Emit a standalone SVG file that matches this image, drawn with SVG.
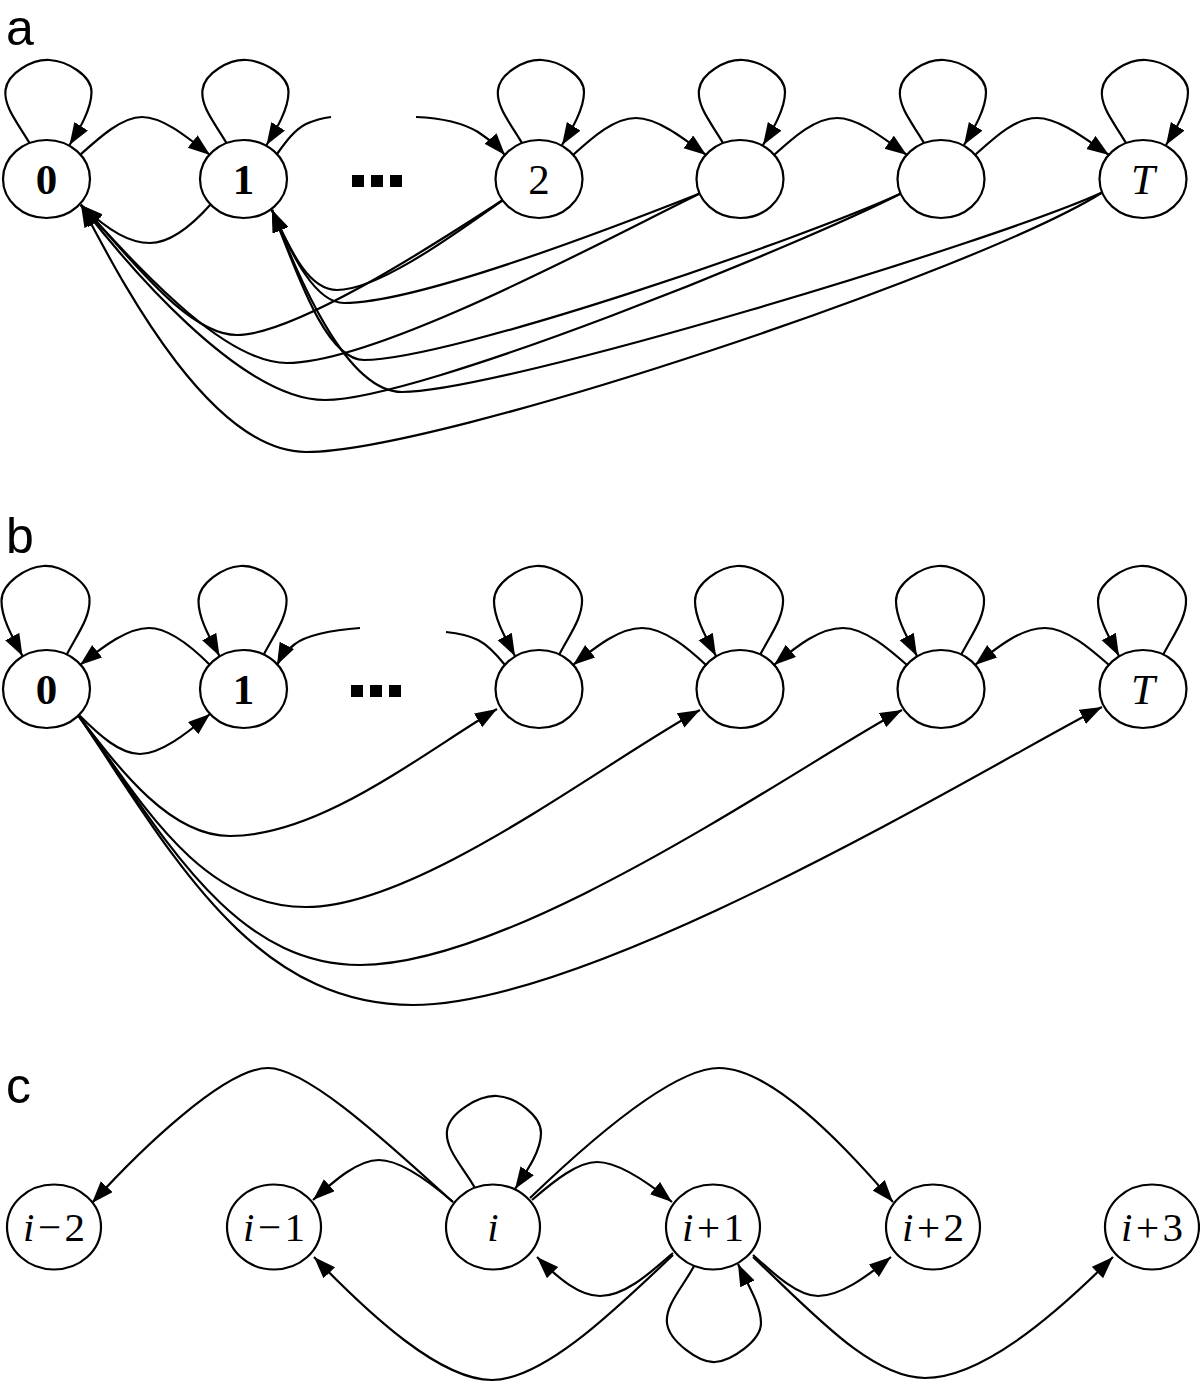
<svg xmlns="http://www.w3.org/2000/svg" width="1200" height="1387" viewBox="0 0 1200 1387">
<style>
.n{fill:#fff;stroke:#000;stroke-width:2.2}
.e{fill:none;stroke:#000;stroke-width:2.2}
.a{marker-end:url(#ah)}
.lab{font-family:"Liberation Sans",Arial,sans-serif;font-size:50px;fill:#000}
.t{font-family:"Liberation Serif","Times New Roman",serif;font-size:43px;fill:#000;text-anchor:middle}
.tc{font-size:41px}
.b{font-weight:bold}
.it{font-style:italic}
.dot{fill:#000}
</style>
<defs>
<marker id="ah" markerUnits="userSpaceOnUse" markerWidth="23" markerHeight="17" refX="22" refY="8" orient="auto">
<path d="M0,0 L22,8 L0,16 z" fill="#000"/>
</marker>
</defs>

<text class="lab" x="6" y="45">a</text>
<text class="lab" x="6" y="553">b</text>
<text class="lab" x="6" y="1103">c</text>

<!-- connectors -->
<g id="connectors">
<!-- panel a self loops -->
<g class="e a">
<path d="M-17,-36 C-28,-55 -43,-72 -41,-89 C-39,-106 -14,-120 3,-119 C20,-118 45,-104 45,-87 C45,-70 33,-50 23,-34" transform="translate(46.5,179)"/>
<path d="M-17,-36 C-28,-55 -43,-72 -41,-89 C-39,-106 -14,-120 3,-119 C20,-118 45,-104 45,-87 C45,-70 33,-50 23,-34" transform="translate(243.5,179)"/>
<path d="M-17,-36 C-28,-55 -43,-72 -41,-89 C-39,-106 -14,-120 3,-119 C20,-118 45,-104 45,-87 C45,-70 33,-50 23,-34" transform="translate(539,179)"/>
<path d="M-17,-36 C-28,-55 -43,-72 -41,-89 C-39,-106 -14,-120 3,-119 C20,-118 45,-104 45,-87 C45,-70 33,-50 23,-34" transform="translate(740,179)"/>
<path d="M-17,-36 C-28,-55 -43,-72 -41,-89 C-39,-106 -14,-120 3,-119 C20,-118 45,-104 45,-87 C45,-70 33,-50 23,-34" transform="translate(941,179)"/>
<path d="M-17,-36 C-28,-55 -43,-72 -41,-89 C-39,-106 -14,-120 3,-119 C20,-118 45,-104 45,-87 C45,-70 33,-50 23,-34" transform="translate(1143,179)"/>
<!-- panel a forward arcs -->
<path d="M80,155 C100,137 122,117 142,117 C163,117 187,137 210,155"/>
<path d="M416,117 C440,118 463,123 478,132 C490,140 498,147 505,155"/>
<path d="M573,155 C593,137 614,118 636,118 C657,118 682,137 706,155"/>
<path d="M774,155 C794,137 815,118 837,118 C858,118 882,137 907,155"/>
<path d="M975,155 C995,137 1015,118 1037,118 C1058,118 1083,137 1109,155"/>
<!-- panel a back edges -->
<path d="M211,204 C195,222 172,243 150,243 C130,243 110,232 81,205"/>
<path d="M503,200 C460,230 380,290 337,290 C310,290 292,255 272,210"/>
<path d="M503,200 C462,226 300,335 237,335 C185,335 125,250 81,205"/>
<path d="M701,193 C620,225 420,303 344,303 C316,303 293,258 272,210"/>
<path d="M701,193 C620,232 380,363 287,363 C220,363 128,255 81,205"/>
<path d="M902,193 C800,240 450,360 364,360 C325,360 296,270 272,210"/>
<path d="M902,193 C800,245 420,400 325,400 C240,400 125,262 81,205"/>
<path d="M1103,192 C1000,240 500,392 402,392 C345,392 298,275 272,210"/>
<path d="M1103,192 C980,270 440,452 306,452 C205,452 112,262 81,205"/>
</g>
<path class="e" d="M277,154 C285,143 294,130 306,124 C315,120 323,118 331,117"/>

<!-- panel b self loops -->
<g class="e a">
<path d="M20,-34 C31,-55 44,-72 43,-90 C42,-108 14,-124 -3,-123 C-20,-122 -45,-106 -45,-88 C-45,-70 -33,-50 -24,-33" transform="translate(46.5,689)"/>
<path d="M20,-34 C31,-55 44,-72 43,-90 C42,-108 14,-124 -3,-123 C-20,-122 -45,-106 -45,-88 C-45,-70 -33,-50 -24,-33" transform="translate(243.5,689)"/>
<path d="M20,-34 C31,-55 44,-72 43,-90 C42,-108 14,-124 -3,-123 C-20,-122 -45,-106 -45,-88 C-45,-70 -33,-50 -24,-33" transform="translate(539,689)"/>
<path d="M20,-34 C31,-55 44,-72 43,-90 C42,-108 14,-124 -3,-123 C-20,-122 -45,-106 -45,-88 C-45,-70 -33,-50 -24,-33" transform="translate(740,689)"/>
<path d="M20,-34 C31,-55 44,-72 43,-90 C42,-108 14,-124 -3,-123 C-20,-122 -45,-106 -45,-88 C-45,-70 -33,-50 -24,-33" transform="translate(941,689)"/>
<path d="M20,-34 C31,-55 44,-72 43,-90 C42,-108 14,-124 -3,-123 C-20,-122 -45,-106 -45,-88 C-45,-70 -33,-50 -24,-33" transform="translate(1143,689)"/>
<!-- panel b back arcs -->
<path d="M210,665 C195,650 170,628 149,628 C128,628 105,645 80,665"/>
<path d="M360,628 C330,630 305,636 295,644 C287,650 281,657 277,665"/>
<path d="M706,665 C690,650 665,628 642,628 C620,628 598,645 573,665"/>
<path d="M907,665 C890,650 865,628 843,628 C820,628 798,645 774,665"/>
<path d="M1109,665 C1092,650 1067,628 1045,628 C1022,628 1000,645 975,665"/>
<!-- panel b forward edges from 0 -->
<path d="M78,714 C100,736 120,754 140,754 C160,754 185,735 210,714"/>
<path d="M78,715 C120,770 170,836 230,836 C320,836 420,755 497,709"/>
<path d="M78,715 C140,800 200,907 306,907 C420,907 610,758 700,710"/>
<path d="M78,715 C160,830 230,965 360,965 C520,965 810,758 902,710"/>
<path d="M78,715 C170,850 250,1005 413,1005 C600,1005 1010,753 1102,707"/>
</g>
<path class="e" d="M505,665 C497,655 488,645 478,640 C468,635 456,633 446,632"/>

<!-- panel c -->
<g class="e a">
<path d="M-18,-39 C-30,-60 -48,-78 -46,-96 C-44,-114 -14,-132 4,-131 C22,-130 48,-112 48,-94 C48,-76 34,-56 22,-38" transform="translate(493,1227)"/>
<path d="M-19,39 C-30,60 -48,78 -46,96 C-44,114 -14,136 2,135 C18,134 48,114 48,96 C48,78 35,58 25,37" transform="translate(713,1227)"/>
<path d="M453,1202 C400,1155 310,1068 268,1068 C225,1068 140,1150 92,1203"/>
<path d="M453,1202 C430,1182 400,1160 379,1160 C358,1160 335,1180 313,1200"/>
<path d="M532,1200 C555,1180 578,1162 597,1162 C618,1162 645,1180 672,1202"/>
<path d="M530,1198 C580,1150 670,1068 719,1068 C770,1068 840,1140 893,1202"/>
<path d="M673,1253 C650,1273 625,1296 600,1296 C580,1296 560,1280 537,1257"/>
<path d="M673,1255 C620,1305 545,1380 492,1380 C440,1380 370,1315 314,1257"/>
<path d="M753,1255 C775,1275 798,1296 818,1296 C840,1296 865,1278 891,1257"/>
<path d="M753,1257 C810,1310 870,1378 925,1378 C980,1378 1050,1320 1113,1257"/>
</g>
</g>

<!-- panel a nodes -->
<g id="a0"><ellipse class="n" cx="46.5" cy="179" rx="43.5" ry="39"/><text class="t b" x="46.5" y="194">0</text></g>
<g id="a1"><ellipse class="n" cx="243.5" cy="179" rx="43.5" ry="39"/><text class="t b" x="243.5" y="194">1</text></g>
<g id="a2"><ellipse class="n" cx="539" cy="179" rx="43.5" ry="39"/><text class="t" x="539" y="194">2</text></g>
<g id="a3"><ellipse class="n" cx="740" cy="179" rx="43.5" ry="39"/></g>
<g id="a4"><ellipse class="n" cx="941" cy="179" rx="43.5" ry="39"/></g>
<g id="aT"><ellipse class="n" cx="1143" cy="179" rx="43.5" ry="39"/><text class="t it" x="1143" y="194">T</text></g>
<g id="adots"><rect class="dot" x="352" y="175" width="12" height="12"/><rect class="dot" x="371" y="175" width="12" height="12"/><rect class="dot" x="390" y="175" width="12" height="12"/></g>

<!-- panel b nodes -->
<g id="b0"><ellipse class="n" cx="46.5" cy="689" rx="43.5" ry="39"/><text class="t b" x="46.5" y="704">0</text></g>
<g id="b1"><ellipse class="n" cx="243.5" cy="689" rx="43.5" ry="39"/><text class="t b" x="243.5" y="704">1</text></g>
<g id="b2"><ellipse class="n" cx="539" cy="689" rx="43.5" ry="39"/></g>
<g id="b3"><ellipse class="n" cx="740" cy="689" rx="43.5" ry="39"/></g>
<g id="b4"><ellipse class="n" cx="941" cy="689" rx="43.5" ry="39"/></g>
<g id="bT"><ellipse class="n" cx="1143" cy="689" rx="43.5" ry="39"/><text class="t it" x="1143" y="704">T</text></g>
<g id="bdots"><rect class="dot" x="351" y="685" width="12" height="12"/><rect class="dot" x="370" y="685" width="12" height="12"/><rect class="dot" x="389" y="685" width="12" height="12"/></g>

<!-- panel c nodes -->
<g id="cm2"><ellipse class="n" cx="54" cy="1227" rx="47" ry="42.5"/><text class="t tc" x="54" y="1241" textLength="62" lengthAdjust="spacing"><tspan class="it">i</tspan>−2</text></g>
<g id="cm1"><ellipse class="n" cx="274" cy="1227" rx="47" ry="42.5"/><text class="t tc" x="274" y="1241" textLength="62" lengthAdjust="spacing"><tspan class="it">i</tspan>−1</text></g>
<g id="c0"><ellipse class="n" cx="493" cy="1227" rx="47" ry="42.5"/><text class="t tc it" x="493" y="1241">i</text></g>
<g id="cp1"><ellipse class="n" cx="713" cy="1227" rx="47" ry="42.5"/><text class="t tc" x="713" y="1241" textLength="62" lengthAdjust="spacing"><tspan class="it">i</tspan>+1</text></g>
<g id="cp2"><ellipse class="n" cx="933" cy="1227" rx="47" ry="42.5"/><text class="t tc" x="933" y="1241" textLength="62" lengthAdjust="spacing"><tspan class="it">i</tspan>+2</text></g>
<g id="cp3"><ellipse class="n" cx="1152" cy="1227" rx="47" ry="42.5"/><text class="t tc" x="1152" y="1241" textLength="62" lengthAdjust="spacing"><tspan class="it">i</tspan>+3</text></g>
</svg>
